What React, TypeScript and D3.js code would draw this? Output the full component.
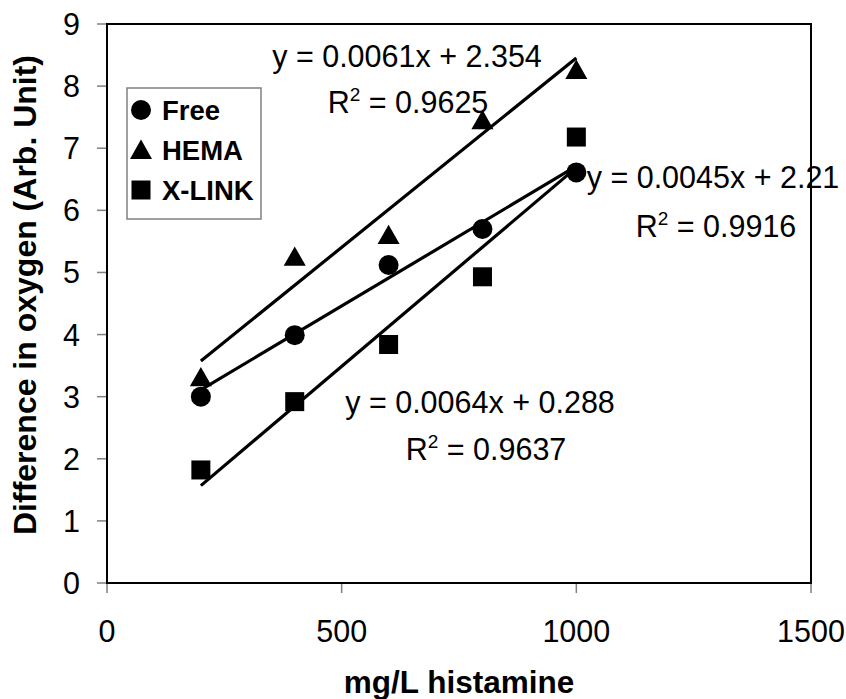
import React from "react";
import * as d3 from "d3";

const xValues = [200, 400, 600, 800, 1000];
const freeValues = [3.0, 3.99, 5.12, 5.7, 6.61];
const hemaValues = [3.31, 5.25, 5.6, 7.45, 8.26];
const xlinkValues = [1.82, 2.92, 3.84, 4.93, 7.18];

const seriesNames = ["Free", "HEMA", "X-LINK"];
const slopes = [0.0045, 0.0061, 0.0064];
const intercepts = [2.21, 2.354, 0.288];
const eqLabels = ["y = 0.0045x + 2.21", "y = 0.0061x + 2.354", "y = 0.0064x + 0.288"];
const r2Labels = ["0.9916", "0.9625", "0.9637"];

const xTicks = [0, 500, 1000, 1500];
const yTicks = [0, 1, 2, 3, 4, 5, 6, 7, 8, 9];

const xTitle = "mg/L histamine";
const yTitle = "Difference in oxygen (Arb. Unit)";

const W = 846;
const H = 699;
const M = { left: 107, right: 811, top: 24, bottom: 583 };
const FONT = "'Liberation Sans', Arial, sans-serif";

// label anchor layout (pixel centers / baselines)
const labelLayout = [
  { eqX: 713, eqY: 188, r2X: 716, r2Y: 237 },
  { eqX: 407, eqY: 67, r2X: 408, r2Y: 113 },
  { eqX: 480, eqY: 413, r2X: 486, r2Y: 460 },
];

function Marker({ kind, x, y }: { kind: number; x: number; y: number }) {
  if (kind === 0) return <circle cx={x} cy={y} r={10} fill="#000" />;
  if (kind === 1) {
    const s = 10.5;
    return (
      <path
        d={`M${x},${y - s} L${x + s * 1.05},${y + s * 0.85} L${x - s * 1.05},${y + s * 0.85} Z`}
        fill="#000"
      />
    );
  }
  return <rect x={x - 9.5} y={y - 9.5} width={19} height={19} fill="#000" />;
}

export default function App() {
  const x = d3.scaleLinear().domain([0, 1500]).range([M.left, M.right]);
  const y = d3.scaleLinear().domain([0, 9]).range([M.bottom, M.top]);
  const allSeries = [freeValues, hemaValues, xlinkValues];

  return (
    <div style={{ position: "absolute", left: 0, top: 0 }}>
      <svg width={W} height={H} style={{ display: "block", background: "#fff" }} fontFamily={FONT}>
        <rect x={0} y={0} width={W} height={H} fill="#fff" />
        {/* ticks */}
        {yTicks.map((t) => (
          <g key={"y" + t}>
            <line x1={M.left - 10} x2={M.left} y1={y(t)} y2={y(t)} stroke="#808080" strokeWidth={1.5} />
            <text x={80} y={y(t) + 11} fontSize={30.5} textAnchor="end" fill="#000">
              {t}
            </text>
          </g>
        ))}
        {xTicks.map((t) => (
          <g key={"x" + t}>
            <line x1={x(t)} x2={x(t)} y1={M.bottom} y2={M.bottom + 10} stroke="#808080" strokeWidth={1.5} />
            <text x={x(t)} y={642} fontSize={30.5} textAnchor="middle" fill="#000">
              {t}
            </text>
          </g>
        ))}
        {/* plot frame */}
        <rect
          x={M.left}
          y={M.top}
          width={M.right - M.left}
          height={M.bottom - M.top}
          fill="none"
          stroke="#000"
          strokeWidth={2}
        />
        {/* trendlines */}
        {slopes.map((s, i) => {
          const x0 = d3.min(xValues) as number;
          const x1 = d3.max(xValues) as number;
          return (
            <line
              key={"tl" + i}
              x1={x(x0)}
              y1={y(s * x0 + intercepts[i])}
              x2={x(x1)}
              y2={y(s * x1 + intercepts[i])}
              stroke="#000"
              strokeWidth={3.2}
            />
          );
        })}
        {/* markers */}
        {allSeries.map((vals, si) =>
          vals.map((v, j) => <Marker key={si + "-" + j} kind={si} x={x(xValues[j])} y={y(v)} />)
        )}
        {/* equation labels */}
        {eqLabels.map((lab, i) => (
          <g key={"eq" + i} fontSize={30.5} fill="#000">
            <text x={labelLayout[i].eqX} y={labelLayout[i].eqY} textAnchor="middle">
              {lab}
            </text>
            <text x={labelLayout[i].r2X} y={labelLayout[i].r2Y} textAnchor="middle">
              R<tspan fontSize={19} dy={-12}>2</tspan>
              <tspan dy={12}>{" = " + r2Labels[i]}</tspan>
            </text>
          </g>
        ))}
        {/* legend */}
        <rect x={127} y={88} width={134} height={131} fill="#fff" stroke="#808080" strokeWidth={1.5} />
        {seriesNames.map((n, i) => {
          const cy = 110 + i * 40;
          return (
            <g key={"lg" + i}>
              <Marker kind={i} x={141} y={cy} />
              <text x={162} y={cy + 10} fontSize={27.5} fontWeight="bold" fill="#000">
                {n}
              </text>
            </g>
          );
        })}
        {/* axis titles */}
        <text x={(M.left + M.right) / 2} y={693} fontSize={31.5} fontWeight="bold" textAnchor="middle">
          {xTitle}
        </text>
        <text
          transform={`translate(36, ${(52 + 538) / 2}) rotate(-90)`}
          fontSize={32}
          fontWeight="bold"
          textAnchor="middle"
        >
          {yTitle}
        </text>
      </svg>
    </div>
  );
}
